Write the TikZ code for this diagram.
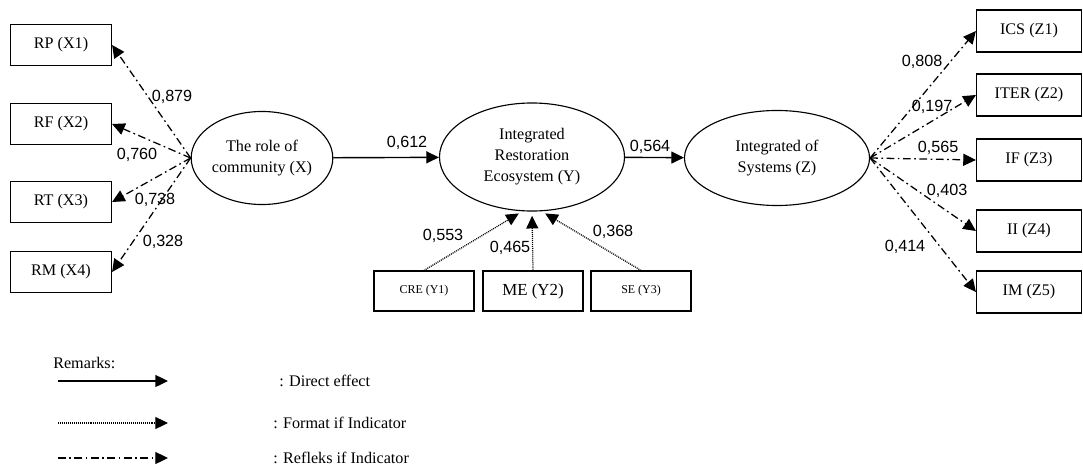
\documentclass[tikz,border=0pt]{standalone}
\usepackage{fontspec}
\setmainfont{Liberation Serif}
\setsansfont{Liberation Sans}
\usetikzlibrary{positioning,shapes.geometric,arrows.meta}
\tikzset{
  latent/.style={draw,ellipse,line width=0.8pt,inner sep=0pt,align=center,font=\fontsize{11.5}{15}\selectfont},
  indbox/.style={draw,rectangle,line width=0.8pt,inner sep=0pt,font=\fontsize{11.5}{14}\selectfont},
  coef/.style={font=\sffamily\fontsize{11.5}{14}\selectfont,inner sep=1pt},
  direct/.style={-{Triangle[length=9pt,width=8.5pt]},line width=1pt},
  formative/.style={-{Triangle[length=9pt,width=8.5pt]},line width=0.9pt,dash pattern=on 0.7pt off 0.7pt},
  reflective/.style={-{Triangle[length=9pt,width=8.5pt]},line width=0.9pt,dash pattern=on 5.5pt off 2.5pt on 1.2pt off 2.5pt},
}
\begin{document}
\begin{tikzpicture}[x=0.025cm,y=-0.025cm]
\useasboundingbox (0,0) rectangle (1083,473);
% Latent variables
\node[latent,minimum width=3.5cm,minimum height=2.325cm] (X) at (262,158) {The role of\\community (X)};
\node[latent,minimum width=4.625cm,minimum height=2.7cm] (Y) at (532,157) {Integrated\\Restoration\\Ecosystem (Y)};
\node[latent,minimum width=4.625cm,minimum height=2.375cm] (Z) at (777,158) {Integrated of\\Systems (Z)};
% Indicators of X
\node[indbox,minimum width=2.525cm,minimum height=1.025cm] (X1) at (61,45) {RP (X1)};
\node[indbox,minimum width=2.525cm,minimum height=1.025cm] (X2) at (61,124) {RF (X2)};
\node[indbox,minimum width=2.525cm,minimum height=1.025cm] (X3) at (61,202) {RT (X3)};
\node[indbox,minimum width=2.525cm,minimum height=1.025cm] (X4) at (61,272) {RM (X4)};
% Indicators of Y
\node[indbox,minimum width=2.5cm,minimum height=1cm,font=\fontsize{8.5}{10}\selectfont] (Y1) at (424,291) {CRE (Y1)};
\node[indbox,minimum width=2.5cm,minimum height=1cm,font=\fontsize{12}{14}\selectfont] (Y2) at (533,291) {ME (Y2)};
\node[indbox,minimum width=2.5cm,minimum height=1cm,font=\fontsize{8.5}{10}\selectfont] (Y3) at (641,291) {SE (Y3)};
% Indicators of Z
\node[indbox,minimum width=2.625cm,minimum height=1.05cm] (Z1) at (1029,31) {ICS (Z1)};
\node[indbox,minimum width=2.625cm,minimum height=1.05cm] (Z2) at (1029,95) {ITER (Z2)};
\node[indbox,minimum width=2.625cm,minimum height=1.05cm] (Z3) at (1029,160) {IF (Z3)};
\node[indbox,minimum width=2.625cm,minimum height=1.05cm] (Z4) at (1029,231) {II (Z4)};
\node[indbox,minimum width=2.625cm,minimum height=1.05cm] (Z5) at (1029,292) {IM (Z5)};
% Paths
\draw[direct] (X) -- (Y);
\draw[direct] (Y) -- (Z);
\foreach \i in {1,...,4} \draw[reflective] (X.west) -- (X\i.east);
\foreach \i in {1,...,5} \draw[reflective] (Z.east) -- (Z\i.west);
\draw[formative,shorten >=3pt] (Y1.north) -- (Y.-100);
\draw[formative,shorten >=3pt] (Y2.north) -- (Y.south);
\draw[formative,shorten >=3pt] (Y3.north) -- (Y.-80);
% Coefficients
\node[coef] (cXY) at (407,143) {0,612};
\node[coef] (cYZ) at (650,147) {0,564};
\node[coef] (cX1) at (172,97) {0,879};
\node[coef] (cX2) at (137,155) {0,760};
\node[coef] (cX3) at (155,200) {0,738};
\node[coef] (cX4) at (163,242) {0,328};
\node[coef] (cY1) at (443,236) {0,553};
\node[coef] (cY2) at (510,248) {0,465};
\node[coef] (cY3) at (613,232) {0,368};
\node[coef] (cZ1) at (922,62) {0,808};
\node[coef] (cZ2) at (932,107) {0,197};
\node[coef] (cZ3) at (938,148) {0,565};
\node[coef] (cZ4) at (947,191) {0,403};
\node[coef] (cZ5) at (905,247) {0,414};
% Remarks
\node[anchor=west,inner sep=0pt,font=\fontsize{11.5}{14}\selectfont] (rem) at (53,363) {Remarks:};
\coordinate (la) at (58,381); \coordinate (lb) at (168,381);
\coordinate (lc) at (58,423); \coordinate (ld) at (168,423);
\coordinate (le) at (58,458); \coordinate (lf) at (168,458);
\draw[direct] (la) -- (lb);
\draw[formative] (lc) -- (ld);
\draw[reflective] (le) -- (lf);
\node[anchor=west,inner sep=0pt,font=\fontsize{11.5}{14}\selectfont] (t1) at (279,381) {: Direct effect};
\node[anchor=west,inner sep=0pt,font=\fontsize{11.5}{14}\selectfont] (t2) at (273,423) {: Format if Indicator};
\node[anchor=west,inner sep=0pt,font=\fontsize{11.5}{14}\selectfont] (t3) at (273,458) {: Refleks if Indicator};
\end{tikzpicture}
\end{document}
